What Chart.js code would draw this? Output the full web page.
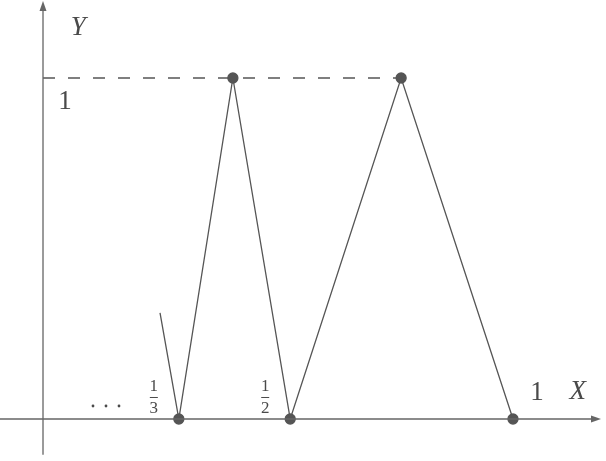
<!DOCTYPE html>
<html>
<head>
<meta charset="utf-8">
<script src="https://cdn.jsdelivr.net/npm/chart.js@4/dist/chart.umd.min.js"></script>
<style>
  html, body { margin: 0; padding: 0; background: #fff; }
  canvas { display: block; }
</style>
</head>
<body>
<canvas id="chart" width="606" height="461"></canvas>
<script>
// zigzag (schematic units: the tick "1" on X sits at x = 1)
const zigX = [0.249, 0.289, 0.404, 0.526, 0.762, 1.0];
const zigY = [0.311, 0, 1, 0, 1, 0];
const zigDots = [false, true, true, true, true, true];

// dashed level y = 1
const dashX = [0, 0.762];
const dashY = [1, 1];

// ticks on X axis
const xTickPos = [0.289, 0.526, 1.0];
const xTickLabels = [['1', '3'], ['1', '2'], '1'];

// axis extent
const xRange = [-0.0915, 1.1979];
const yRange = [-0.1232, 1.2287];

const ink = '#4a4a4a';
const toPts = (xs, ys) => xs.map((x, i) => ({ x: x, y: ys[i] }));

const decor = {
  id: 'decor',
  afterDatasetsDraw(chart) {
    const ctx = chart.ctx;
    const sx = chart.scales.x, sy = chart.scales.y;
    const px = v => sx.getPixelForValue(v);
    const py = v => sy.getPixelForValue(v);
    ctx.save();
    ctx.strokeStyle = '#666';
    ctx.fillStyle = '#666';
    ctx.lineWidth = 1.3;

    // axes
    const x0 = px(0), y0 = py(0);
    ctx.beginPath();
    ctx.moveTo(x0, py(-0.105));
    ctx.lineTo(x0, 6);
    ctx.moveTo(0, y0);
    ctx.lineTo(596, y0);
    ctx.stroke();
    // arrow heads
    ctx.beginPath();
    ctx.moveTo(x0, 1);
    ctx.lineTo(x0 - 3.5, 11);
    ctx.lineTo(x0 + 3.5, 11);
    ctx.closePath();
    ctx.fill();
    ctx.beginPath();
    ctx.moveTo(601, y0);
    ctx.lineTo(591, y0 - 3.5);
    ctx.lineTo(591, y0 + 3.5);
    ctx.closePath();
    ctx.fill();

    // axis names and unit marks
    ctx.fillStyle = ink;
    ctx.textAlign = 'center';
    ctx.textBaseline = 'middle';
    ctx.font = 'italic 27px "Liberation Serif", "DejaVu Serif", serif';
    ctx.fillText('Y', px(0.075), py(1.147));
    ctx.fillText('X', px(1.138), py(0.078));
    ctx.font = '27px "Liberation Serif", "DejaVu Serif", serif';
    ctx.fillText('1', px(0.047), py(0.93));

    // tick labels above the X axis
    xTickPos.forEach((v, i) => {
      const lab = xTickLabels[i];
      if (Array.isArray(lab)) {
        const cx = px(v) - 25;
        ctx.font = '17px "Liberation Serif", "DejaVu Serif", serif';
        ctx.fillText(lab[0], cx, y0 - 32);
        ctx.fillText(lab[1], cx, y0 - 10);
        ctx.beginPath();
        ctx.lineWidth = 1;
        ctx.strokeStyle = ink;
        ctx.moveTo(cx - 4, y0 - 21.5);
        ctx.lineTo(cx + 4, y0 - 21.5);
        ctx.stroke();
      } else {
        ctx.font = '27px "Liberation Serif", "DejaVu Serif", serif';
        ctx.fillText(lab, px(v) + 24, y0 - 26);
      }
    });

    // leading dots
    ctx.fillStyle = ink;
    [93, 106, 119].forEach(x => {
      ctx.beginPath();
      ctx.arc(x, y0 - 13, 1.4, 0, Math.PI * 2);
      ctx.fill();
    });
    ctx.restore();
  }
};

new Chart(document.getElementById('chart'), {
  type: 'line',
  data: {
    datasets: [
      {
        data: toPts(dashX, dashY),
        borderColor: '#555',
        borderWidth: 1.3,
        borderDash: [12, 13],
        pointRadius: 0
      },
      {
        data: toPts(zigX, zigY),
        borderColor: '#555',
        borderWidth: 1.3,
        pointRadius: zigDots.map(d => d ? 5 : 0),
        pointBackgroundColor: '#555',
        pointBorderColor: '#555',
        tension: 0
      }
    ]
  },
  options: {
    responsive: false,
    animation: false,
    layout: { padding: 0, autoPadding: false },
    plugins: { legend: { display: false }, tooltip: { enabled: false } },
    scales: {
      x: { type: 'linear', min: xRange[0], max: xRange[1], display: false },
      y: { type: 'linear', min: yRange[0], max: yRange[1], display: false }
    }
  },
  plugins: [decor]
});
</script>
</body>
</html>
